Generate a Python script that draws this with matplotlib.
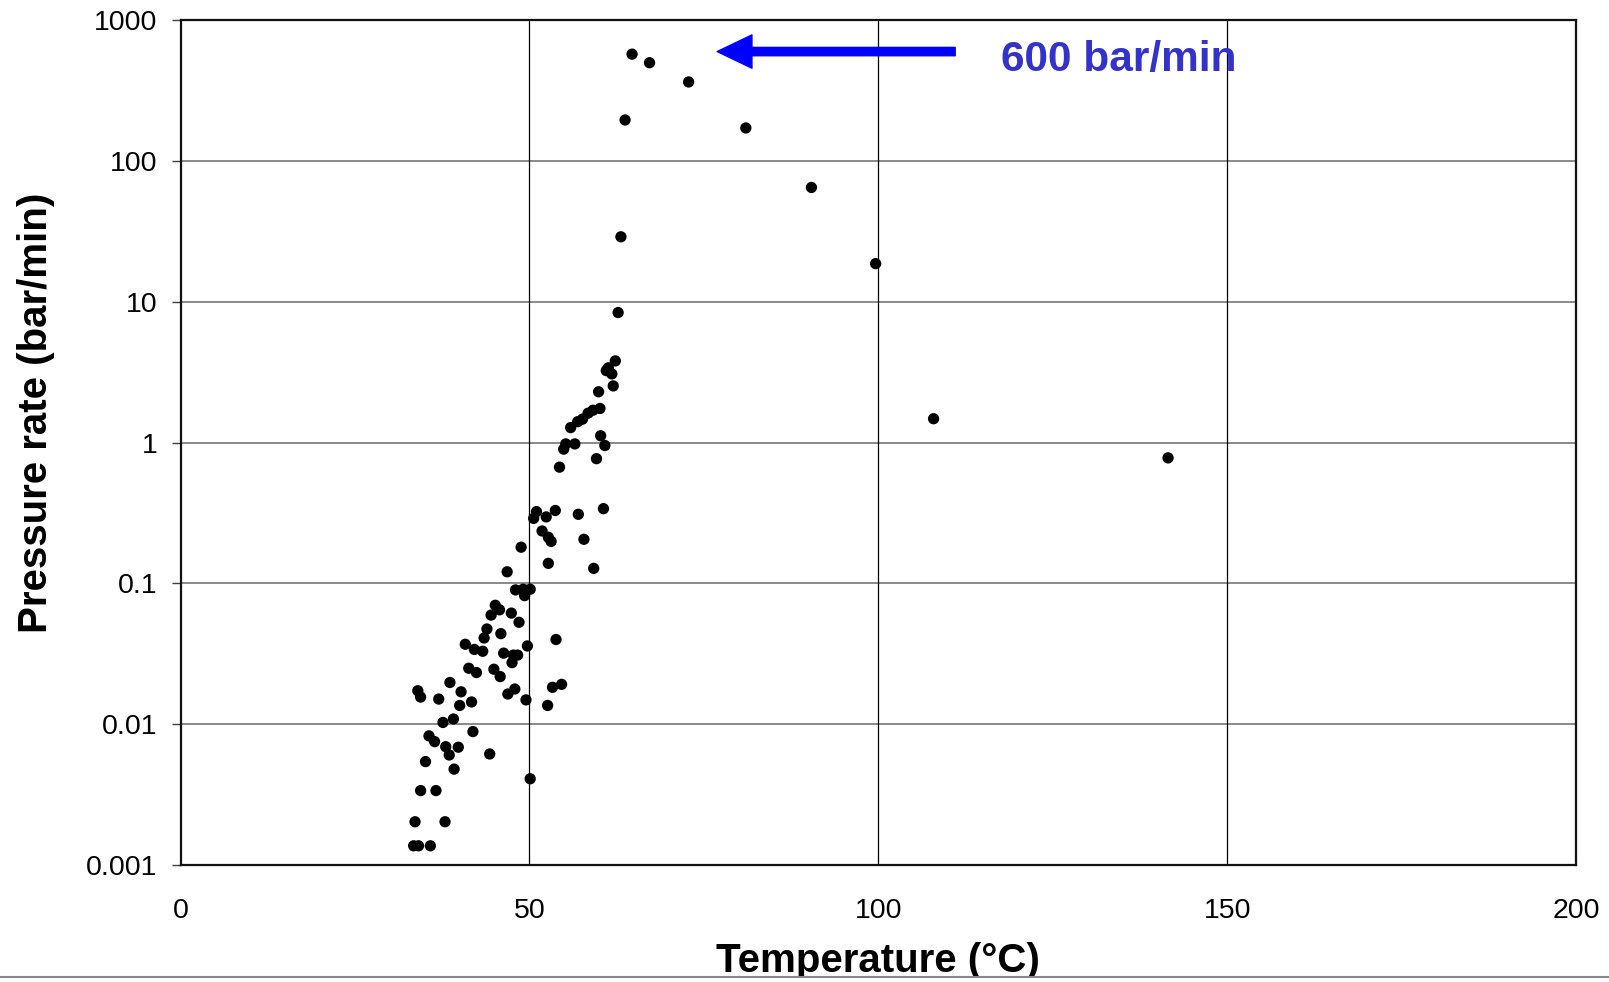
import numpy as np
import matplotlib
matplotlib.use('Agg')
import matplotlib.pyplot as plt
from matplotlib.lines import Line2D
from matplotlib.patches import Rectangle

plt.rcParams['font.family'] = ['Liberation Sans', 'DejaVu Sans']

# --- DATOS ---
# punto máximo y cola de alta temperatura
temp_alta = [64.7, 67.2, 72.8, 63.7, 81.0, 90.4, 63.1, 99.6, 62.7, 107.9, 141.5]
rate_alta = [575, 500, 365, 196, 172, 65, 29, 18.7, 8.4, 1.48, 0.78]

# banda 1 - 10 bar/min
temp_b1 = [62.3, 61.3, 61.0, 61.8, 62.0, 59.9, 60.1, 59.1, 58.4, 57.6, 56.9,
           55.9, 60.2]
rate_b1 = [3.81, 3.4, 3.25, 3.08, 2.53, 2.30, 1.75, 1.70, 1.62, 1.47, 1.41,
           1.28, 1.12]

# banda 0.1 - 1 bar/min
temp_b2 = [60.8, 56.5, 55.2, 54.9, 59.6, 54.3, 51.0, 50.6, 52.4, 53.7, 57.0,
           60.6, 51.8, 53.1, 52.7, 57.8, 48.8, 52.7, 59.2, 46.8]
rate_b2 = [0.955, 0.98, 0.98, 0.90, 0.77, 0.67, 0.324, 0.29, 0.297, 0.33, 0.31,
           0.34, 0.236, 0.199, 0.213, 0.206, 0.181, 0.139, 0.128, 0.121]

# banda 0.01 - 0.1 bar/min
temp_b3 = [48.0, 49.1, 50.1, 49.3, 45.1, 45.7, 44.5, 47.4, 48.5, 43.9, 43.5,
           45.9, 49.7, 53.8, 40.8, 42.1, 43.3, 46.3, 47.7, 48.3, 47.5, 41.3,
           42.4, 44.9, 45.8, 38.6, 34.0, 34.4, 37.0, 40.2, 40.0, 41.7, 46.9,
           47.9, 49.5, 53.3, 54.6, 52.6, 39.1, 37.6]
rate_b3 = [0.090, 0.091, 0.091, 0.082, 0.070, 0.065, 0.0596, 0.0616, 0.053,
           0.0475, 0.041, 0.044, 0.036, 0.040, 0.037, 0.034, 0.033, 0.032,
           0.031, 0.031, 0.0274, 0.025, 0.0233, 0.0246, 0.0218, 0.0198, 0.0173,
           0.0156, 0.0151, 0.0170, 0.0136, 0.0144, 0.0164, 0.0178, 0.0149,
           0.0183, 0.0192, 0.0136, 0.0109, 0.0103]

# por debajo de 0.01 bar/min
temp_b4 = [35.6, 36.4, 41.9, 38.0, 39.8, 38.5, 44.3, 35.1, 39.2, 50.1, 34.4,
           36.6, 33.6, 37.9, 33.4, 34.1, 35.8]
rate_b4 = [0.00827, 0.00753, 0.00887, 0.00693, 0.00687, 0.00605, 0.00615,
           0.00543, 0.0048, 0.0041, 0.00338, 0.00338, 0.00203, 0.00203,
           0.00137, 0.00137, 0.00137]

temperatura = np.array(temp_alta + temp_b1 + temp_b2 + temp_b3 + temp_b4)
pressure_rate = np.array(rate_alta + rate_b1 + rate_b2 + rate_b3 + rate_b4)

x_ticks = [0, 50, 100, 150, 200]
y_ticks = [0.001, 0.01, 0.1, 1, 10, 100, 1000]
y_tick_labels = ['0.001', '0.01', '0.1', '1', '10', '100', '1000']

flecha_y = 600
texto_flecha = '600 bar/min'

# --- FIGURA ---
fig = plt.figure(figsize=(16.09, 9.82), dpi=100)
ax = fig.add_axes([0.1122, 0.1191, 0.8675, 0.8602])

ax.set_yscale('log')
ax.set_xlim(0, 200)
ax.set_ylim(0.001, 1000)

# rejilla: horizontales grises, verticales negras
for yv in y_ticks[1:-1]:
    ax.axhline(yv, color='#808080', lw=1.3, zorder=1)
for xv in x_ticks[1:-1]:
    ax.axvline(xv, color='black', lw=0.9, zorder=1)

ax.scatter(temperatura, pressure_rate, s=66, color='black', zorder=3,
           edgecolors='none')

ax.set_xticks(x_ticks)
ax.set_xticklabels([str(v) for v in x_ticks])
ax.set_yticks(y_ticks)
ax.set_yticklabels(y_tick_labels)
ax.minorticks_off()
ax.tick_params(axis='x', length=0, pad=24, labelsize=20.5)
ax.tick_params(axis='y', length=6.5, width=1, pad=10, labelsize=20.5,
               color='#404040')
for sp in ax.spines.values():
    sp.set_linewidth(1.6)
    sp.set_color('#111111')

# flecha azul y texto
ax.annotate('', xy=(76.9, flecha_y), xytext=(111.0, flecha_y),
            arrowprops=dict(arrowstyle='simple,head_length=2.5,head_width=2.4,tail_width=0.6',
                            mutation_scale=10, color='#0000FF',
                            shrinkA=0, shrinkB=0), zorder=4)
ax.text(117.6, 440, texto_flecha, color='#3333CC', fontsize=30.5,
        fontweight='bold', ha='left', va='baseline', zorder=4)

# etiquetas de ejes
fig.text((180.6 + 1576.2) / 2 / 1609, 1 - 972 / 982, 'Temperature (°C)',
         ha='center', va='baseline', fontsize=29, fontweight='bold')
fig.text(36 / 1609, 1 - 413 / 982, 'Pressure rate (bar/min)', rotation=90,
         ha='center', va='center', fontsize=29, fontweight='bold')

# línea gris inferior que recorta la etiqueta
fig.patches.append(Rectangle((0, 0), 1, 1 - 977 / 982, transform=fig.transFigure,
                             facecolor='white', edgecolor='none', zorder=10))
fig.lines.append(Line2D([0, 1], [1 - 977 / 982] * 2, transform=fig.transFigure,
                        color='#888888', lw=1.5, zorder=11))

plt.savefig('out.png', dpi=100)
